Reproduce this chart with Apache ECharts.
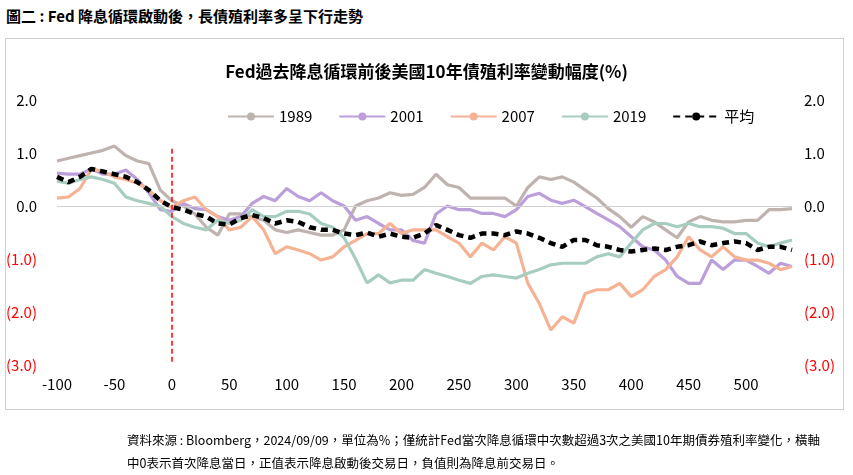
<!DOCTYPE html>
<html><head><meta charset="utf-8">
<script src="https://cdn.jsdelivr.net/npm/echarts@6/dist/echarts.min.js"></script>
<style>
body{margin:0;background:#fff;font-family:"Noto Sans CJK TC","Noto Sans",sans-serif;}
#head{position:absolute;left:6px;top:5px;font-size:15px;font-weight:bold;color:#000;}
#box{position:absolute;left:5px;top:38px;width:837px;height:370px;border:1px solid #d0d0d0;}
#chart{position:absolute;left:0;top:0;width:853px;height:475px;}
#note{position:absolute;left:127px;top:428px;width:700px;font-size:12.5px;line-height:23px;color:#000;}
</style></head>
<body>
<div id="head">圖二 : Fed 降息循環啟動後，長債殖利率多呈下行走勢</div>
<div id="box"></div>
<div id="chart"></div>
<div id="note">資料來源 : Bloomberg，2024/09/09，單位為%；僅統計Fed當次降息循環中次數超過3次之美國10年期債券殖利率變化，橫軸中0表示首次降息當日，正值表示降息啟動後交易日，負值則為降息前交易日。</div>
<script>
// trading days relative to first cut, every 10 days
const days = [];
for (let d = -100; d <= 540; d += 10) days.push(d);

const s1989 = [0.85,0.9,0.95,1.0,1.05,1.13,0.95,0.85,0.8,0.3,0.1,
  0,-0.15,-0.4,-0.55,-0.15,-0.15,-0.2,-0.27,-0.45,-0.5,
  -0.45,-0.5,-0.55,-0.55,-0.45,0,0.1,0.15,0.25,0.2,
  0.22,0.35,0.6,0.4,0.35,0.15,0.15,0.15,0.15,0,
  0.35,0.55,0.5,0.55,0.45,0.3,0.15,-0.05,-0.2,-0.4,
  -0.2,-0.3,-0.45,-0.6,-0.3,-0.2,-0.27,-0.3,-0.3,-0.27,
  -0.27,-0.07,-0.07,-0.05];
const s2001 = [0.62,0.6,0.6,0.7,0.6,0.6,0.68,0.5,0.25,-0.07,-0.1,
  0.05,-0.05,-0.07,-0.2,-0.27,-0.2,0.05,0.18,0.1,0.33,
  0.18,0.1,0.25,0.1,0,-0.27,-0.2,-0.33,-0.45,-0.45,
  -0.65,-0.7,-0.15,0,-0.07,-0.07,-0.14,-0.14,-0.2,-0.07,
  0.18,0.24,0.11,0.05,0.11,-0.01,-0.14,-0.26,-0.39,-0.58,
  -0.77,-0.83,-1.02,-1.33,-1.46,-1.46,-1.02,-1.2,-1.02,-1.02,
  -1.14,-1.27,-1.08,-1.14];
const s2007 = [0.15,0.17,0.33,0.7,0.65,0.55,0.5,0.43,0.3,0.1,-0.03,
  0.1,0.17,-0.07,-0.2,-0.45,-0.4,-0.2,-0.45,-0.9,-0.77,
  -0.83,-0.9,-1.02,-0.96,-0.77,-0.65,-0.52,-0.52,-0.33,-0.52,
  -0.45,-0.45,-0.45,-0.58,-0.7,-0.96,-0.7,-0.83,-0.58,-0.7,
  -1.46,-1.84,-2.34,-2.09,-2.21,-1.65,-1.58,-1.58,-1.46,-1.71,
  -1.58,-1.33,-1.2,-0.96,-0.58,-0.83,-0.96,-0.77,-0.96,-1.02,
  -1.02,-1.08,-1.2,-1.14];
const s2019 = [0.47,0.43,0.5,0.55,0.5,0.43,0.17,0.1,0.05,-0.01,-0.2,
  -0.33,-0.4,-0.45,-0.27,-0.33,-0.27,-0.07,-0.2,-0.2,-0.1,
  -0.1,-0.15,-0.33,-0.4,-0.6,-1.0,-1.45,-1.3,-1.45,-1.4,
  -1.4,-1.2,-1.27,-1.33,-1.4,-1.46,-1.33,-1.3,-1.33,-1.36,
  -1.27,-1.2,-1.11,-1.08,-1.08,-1.08,-0.96,-0.9,-0.96,-0.7,
  -0.45,-0.33,-0.33,-0.39,-0.33,-0.39,-0.39,-0.42,-0.52,-0.52,
  -0.7,-0.77,-0.7,-0.64];
const sAvg = [0.55,0.45,0.55,0.7,0.65,0.6,0.55,0.45,0.3,0.1,-0.02,
  -0.07,-0.15,-0.2,-0.33,-0.35,-0.23,-0.17,-0.23,-0.33,-0.27,
  -0.3,-0.4,-0.45,-0.45,-0.52,-0.55,-0.5,-0.58,-0.52,-0.58,
  -0.6,-0.52,-0.36,-0.45,-0.55,-0.6,-0.52,-0.52,-0.55,-0.48,
  -0.52,-0.6,-0.7,-0.77,-0.64,-0.64,-0.74,-0.77,-0.83,-0.86,
  -0.83,-0.8,-0.83,-0.77,-0.74,-0.67,-0.74,-0.7,-0.67,-0.7,
  -0.83,-0.77,-0.77,-0.83];

const names = ['1989', '2001', '2007', '2019', '平均'];
const colors = ['#bfb3af', '#bb9fdb', '#f5b394', '#a7cdc0', '#000000'];
const values = [s1989, s2001, s2007, s2019, sAvg];

const font = '"Noto Sans CJK TC","Noto Sans",sans-serif';
const yLabel = {
  fontSize: 15, fontFamily: font,
  color: v => (v < 0 ? '#ff0000' : '#000'),
  formatter: v => (v < 0 ? '(' + Math.abs(v).toFixed(1) + ')' : v.toFixed(1))
};

const series = values.map((vals, i) => ({
  name: names[i],
  type: 'line',
  data: days.map((d, k) => [d, vals[k]]),
  symbol: 'none',
  z: i === 4 ? 5 : 2,
  lineStyle: i === 4
    ? { color: colors[i], width: 4.5, type: [7, 5] }
    : { color: colors[i], width: 3.2 },
  itemStyle: { color: colors[i] }
}));
series.push({
  type: 'line', data: [], silent: true,
  markLine: {
    symbol: 'none', silent: true, label: { show: false },
    data: [
      [{ coord: [-100, 0], lineStyle: { color: '#d0d0d0', width: 1, type: 'solid' } }, { coord: [540, 0] }],
      [{ coord: [0, 1.08], lineStyle: { color: '#ff0000', width: 1.5, type: [5, 3] } }, { coord: [0, -2.95] }]
    ]
  }
});

const chart = echarts.init(document.getElementById('chart'));
chart.setOption({
  animation: false,
  title: {
    text: 'Fed過去降息循環前後美國10年債殖利率變動幅度(%)',
    left: 'center', top: 58,
    textStyle: { fontSize: 17, fontWeight: 'bold', color: '#000', fontFamily: font }
  },
  legend: {
    top: 104, left: 222, itemWidth: 46, itemGap: 26, itemHeight: 10,
    textStyle: { fontSize: 15, color: '#000', fontFamily: font },
    data: names
  },
  grid: { left: 57, right: 61, top: 100, bottom: 110 },
  xAxis: {
    type: 'value', min: -100, max: 540, interval: 50,
    axisLine: { show: false }, axisTick: { show: false }, splitLine: { show: false },
    axisLabel: {
      fontSize: 15, color: '#000', fontFamily: font, margin: 12,
      formatter: v => (v > 500 ? '' : String(v))
    }
  },
  yAxis: [
    { type: 'value', min: -3, max: 2, interval: 1, splitLine: { show: false },
      axisLine: { show: false }, axisTick: { show: false },
      axisLabel: Object.assign({ margin: 20 }, yLabel) },
    { type: 'value', min: -3, max: 2, interval: 1, position: 'right', splitLine: { show: false },
      axisLine: { show: false }, axisTick: { show: false },
      axisLabel: Object.assign({ margin: 12 }, yLabel) }
  ],
  series: series
});
</script>
</body></html>
